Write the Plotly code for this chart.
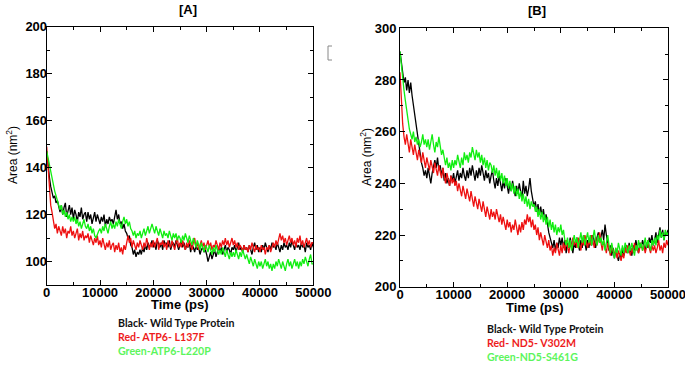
import plotly.graph_objects as go

# sampling grid (ps)
TIME = list(range(0, 50001, 250))

# Panel A: area (nm^2)
A_WILD = [147, 140, 136, 132, 130, 127, 128, 125, 126, 124,
          121, 124, 120, 123, 125, 119, 122, 124, 120, 123,
          118, 122, 120, 117, 121, 119, 123, 118, 120, 121,
          117, 121, 118, 120, 116, 119, 121, 117, 120, 118,
          116, 119, 117, 120, 115, 118, 116, 119, 117, 118,
          116, 119, 122, 118, 120, 116, 117, 114, 116, 113,
          112, 110, 111, 107, 106, 103, 105, 102, 104, 103,
          105, 103, 106, 104, 107, 105, 108, 106, 107, 109,
          106, 108, 105, 109, 107, 106, 108, 105, 109, 107,
          108, 106, 109, 105, 107, 108, 106, 109, 107, 105,
          107, 109, 106, 108, 105, 107, 106, 108, 104, 107,
          106, 104, 107, 105, 106, 103, 105, 106, 104, 105,
          103, 100, 102, 104, 101, 103, 105, 102, 104, 106,
          104, 106, 103, 105, 107, 104, 106, 105, 103, 106,
          105, 107, 104, 106, 108, 105, 106, 104, 107, 105,
          106, 104, 107, 105, 103, 106, 108, 105, 107, 104,
          106, 104, 107, 105, 108, 106, 104, 107, 105, 108,
          106, 107, 105, 108, 106, 104, 107, 105, 108, 106,
          107, 105, 108, 106, 109, 107, 105, 108, 106, 107,
          105, 108, 106, 107, 104, 108, 106, 107, 105, 108,
          106]
A_L137F = [149, 140, 131, 124, 121, 117, 114, 116, 112, 115,
           113, 111, 115, 112, 114, 110, 113, 112, 115, 111,
           113, 110, 112, 114, 109, 112, 110, 113, 109, 111,
           110, 112, 108, 111, 109, 107, 110, 108, 111, 107,
           109, 106, 110, 107, 105, 108, 106, 109, 105, 107,
           108, 104, 107, 105, 108, 104, 106, 103, 107, 105,
           109, 111, 108, 110, 106, 109, 107, 105, 108, 106,
           109, 107, 105, 108, 106, 110, 107, 105, 108, 106,
           109, 106, 108, 110, 105, 108, 107, 109, 106, 108,
           105, 109, 107, 106, 109, 107, 105, 108, 110, 106,
           108, 106, 109, 107, 105, 108, 106, 109, 107, 105,
           108, 110, 106, 108, 105, 107, 109, 106, 108, 105,
           107, 109, 106, 108, 105, 107, 106, 109, 107, 105,
           108, 106, 109, 107, 110, 107, 109, 106, 108, 110,
           107, 109, 106, 108, 105, 107, 106, 104, 107, 105,
           106, 104, 107, 105, 108, 106, 104, 107, 105, 106,
           104, 107, 105, 106, 103, 106, 105, 107, 104, 106,
           108, 106, 109, 107, 110, 112, 109, 111, 108, 110,
           107, 109, 111, 108, 110, 107, 109, 106, 110, 108,
           111, 107, 109, 106, 108, 110, 107, 109, 106, 108,
           108]
A_L220P = [147, 144, 141, 138, 135, 132, 130, 128, 126, 124,
           122, 124, 120, 122, 119, 121, 118, 120, 117, 119,
           117, 119, 116, 118, 115, 117, 114, 116, 118, 115,
           114, 116, 113, 115, 112, 114, 111, 110, 112, 113,
           114, 112, 115, 113, 116, 114, 112, 115, 117, 114,
           116, 114, 117, 115, 118, 116, 114, 117, 119, 116,
           118, 115, 117, 114, 113, 111, 113, 110, 112, 111,
           113, 110, 112, 114, 111, 113, 115, 112, 114, 116,
           114, 112, 115, 113, 111, 114, 112, 110, 113, 111,
           112, 110, 113, 111, 109, 112, 110, 112, 109, 111,
           110, 108, 111, 109, 112, 110, 108, 111, 109, 107,
           110, 108, 106, 109, 107, 105, 108, 106, 104, 107,
           106, 104, 107, 105, 103, 106, 104, 107, 105, 103,
           105, 103, 106, 104, 102, 105, 103, 101, 104, 102,
           104, 102, 105, 103, 101, 104, 102, 105, 103, 101,
           103, 101, 99, 102, 100, 98, 101, 99, 97, 100,
           98, 100, 97, 99, 101, 98, 100, 97, 99, 96,
           99, 97, 100, 98, 101, 99, 97, 100, 98, 96,
           99, 101, 98, 100, 97, 99, 101, 98, 100, 97,
           100, 98, 101, 99, 102, 100, 98, 101, 103, 99,
           99]

# Panel B: area (nm^2)
B_WILD = [291, 286, 283, 279, 281, 276, 280, 275, 279, 274,
          270, 266, 262, 258, 254, 251, 248, 246, 243, 245,
          242, 246, 243, 240, 244, 247, 249, 246, 250, 245,
          247, 243, 246, 241, 244, 240, 242, 239, 243, 241,
          244, 240, 243, 245, 241, 244, 242, 246, 243, 241,
          245, 242, 246, 243, 247, 244, 241, 245, 242, 246,
          243, 247, 244, 241, 245, 242, 244, 240, 243, 245,
          241, 238, 242, 239, 243, 240, 237, 241, 238, 242,
          239, 236, 240, 237, 241, 238, 235, 239, 236, 240,
          237, 234, 241, 236, 239, 235, 238, 242, 237, 234,
          231, 233, 229, 232, 228, 231, 227, 230, 226, 228,
          224, 221, 219, 217, 215, 218, 214, 217, 215, 219,
          216, 219, 215, 218, 213, 217, 215, 219, 216, 213,
          217, 215, 219, 216, 214, 218, 215, 220, 217, 214,
          218, 215, 219, 216, 220, 217, 215, 219, 221, 217,
          220, 222, 218, 224, 220, 217, 214, 216, 212, 215,
          211, 214, 212, 210, 213, 211, 215, 212, 214, 216,
          213, 217, 214, 212, 216, 214, 218, 215, 213, 217,
          215, 218, 216, 214, 217, 215, 219, 217, 220, 216,
          218, 221, 217, 220, 223, 219, 222, 218, 221, 220,
          222]
B_V302M = [283, 270, 263, 258, 255, 259, 256, 252, 257, 254,
           251, 255, 252, 249, 253, 250, 248, 252, 249, 246,
           250, 247, 245, 249, 246, 244, 248, 245, 243, 247,
           244, 242, 246, 243, 240, 244, 241, 239, 243, 240,
           242, 239, 241, 237, 240, 238, 235, 239, 236, 234,
           238, 235, 233, 237, 234, 231, 235, 232, 230, 234,
           231, 229, 233, 230, 227, 231, 228, 226, 230, 227,
           229, 226, 230, 227, 225, 228, 224, 227, 225, 222,
           226, 223, 225, 221, 224, 222, 226, 223, 220, 224,
           221, 225, 222, 226, 224, 228, 225, 227, 223, 226,
           222, 224, 220, 223, 218, 221, 219, 216, 220, 217,
           215, 218, 214, 216, 212, 215, 213, 217, 214, 212,
           216, 213, 217, 214, 218, 215, 213, 217, 215, 219,
           216, 218, 215, 219, 217, 214, 218, 216, 220, 217,
           215, 218, 216, 220, 217, 215, 219, 216, 218, 221,
           217, 214, 218, 216, 213, 217, 215, 212, 216, 214,
           212, 215, 211, 214, 212, 210, 213, 211, 215, 213,
           216, 214, 212, 215, 213, 217, 214, 216, 213, 215,
           217, 214, 216, 213, 215, 218, 215, 213, 216, 214,
           216, 213, 215, 218, 214, 216, 213, 217, 215, 218,
           216]
B_S461G = [291, 285, 280, 276, 272, 268, 264, 261, 259, 257,
           260, 256, 258, 255, 257, 254, 256, 259, 255, 257,
           254, 257, 253, 256, 259, 255, 252, 256, 254, 258,
           255, 251, 253, 249, 247, 250, 246, 248, 245, 249,
           246, 249, 247, 251, 248, 246, 250, 247, 252, 249,
           251, 248, 252, 250, 254, 251, 249, 253, 250, 252,
           248, 251, 247, 250, 246, 249, 245, 248, 247, 244,
           247, 243, 246, 242, 245, 241, 244, 240, 243, 239,
           242, 238, 241, 237, 240, 236, 239, 235, 238, 234,
           237, 233, 236, 232, 235, 231, 234, 230, 233, 231,
           232, 229, 231, 227, 230, 226, 229, 225, 228, 224,
           227, 223, 226, 222, 225, 221, 224, 220, 223, 221,
           224, 220, 222, 218, 216, 219, 215, 218, 214, 217,
           220, 217, 219, 215, 218, 221, 217, 220, 216, 219,
           221, 217, 220, 216, 219, 222, 218, 216, 220, 217,
           219, 216, 218, 214, 217, 220, 216, 213, 217, 214,
           211, 215, 213, 217, 214, 212, 216, 213, 217, 215,
           213, 216, 214, 217, 215, 212, 216, 214, 218, 215,
           217, 214, 216, 219, 215, 218, 216, 214, 218, 216,
           219, 216, 220, 218, 222, 219, 221, 218, 222, 220,
           221]

X_TICKS = [0, 10000, 20000, 30000, 40000, 50000]
X_TICK_LABELS = ["0", "10000", "20000", "30000", "40000", "50000"]
A_Y_TICKS = [100, 120, 140, 160, 180, 200]
B_Y_TICKS = [200, 220, 240, 260, 280, 300]

W, H = 685, 365
def px(x):
    return x / W
def py(y):
    return 1 - y / H

BLACK, RED, GREEN = "#000000", "#ee1111", "#11ee11"

fig = go.Figure()
for xa, ya, series in [
    ("x", "y", [(A_WILD, BLACK), (A_L137F, RED), (A_L220P, GREEN)]),
    ("x2", "y2", [(B_WILD, BLACK), (B_V302M, RED), (B_S461G, GREEN)]),
]:
    for vals, col in series:
        fig.add_trace(go.Scatter(x=TIME, y=vals, mode="lines", xaxis=xa, yaxis=ya,
                                 line=dict(color=col, width=1.3), showlegend=False,
                                 hoverinfo="skip"))

tickfont = dict(family="Liberation Sans", size=13, color="black", weight="bold")
minor = dict(ticks="inside", ticklen=3, tickcolor="black", showgrid=False)
axcommon = dict(showline=True, mirror="allticks", linecolor="black", linewidth=1,
                ticks="inside", ticklen=5, tickcolor="black", showgrid=False,
                zeroline=False, tickfont=tickfont, automargin=False,
                ticklabeloverflow="allow")

fig.update_layout(
    width=W, height=H, margin=dict(l=0, r=0, t=0, b=0, autoexpand=False),
    paper_bgcolor="white", plot_bgcolor="white",
    xaxis=dict(axcommon, domain=[px(46.7), px(313.3)], range=[0, 50000], anchor="y",
               tickvals=X_TICKS, ticktext=X_TICK_LABELS, ticklabelstandoff=-5,
               minor=dict(minor, dtick=5000, tick0=0)),
    yaxis=dict(axcommon, domain=[py(285), py(26.7)], range=[90, 200], anchor="x",
               tickvals=A_Y_TICKS, ticktext=[str(v) for v in A_Y_TICKS], ticklabelstandoff=-4,
               minor=dict(minor, dtick=10, tick0=0)),
    xaxis2=dict(axcommon, domain=[px(400), px(668)], range=[0, 50000], anchor="y2",
                tickvals=X_TICKS, ticktext=X_TICK_LABELS, ticklabelstandoff=-4,
                minor=dict(minor, dtick=5000, tick0=0)),
    yaxis2=dict(axcommon, domain=[py(286.7), py(28.3)], range=[200, 300], anchor="x2",
                tickvals=B_Y_TICKS, ticktext=[str(v) for v in B_Y_TICKS],
                minor=dict(minor, dtick=10, tick0=0)),
)

ann = []
def text(x, y, t, size=13, color="black", bold=True, angle=0, family="Liberation Sans", xanchor="center"):
    ann.append(dict(x=px(x), y=py(y), xref="paper", yref="paper", text=t, showarrow=False,
                    textangle=angle, xanchor=xanchor, yanchor="middle", borderpad=0,
                    font=dict(family=family, size=size, color=color,
                              weight="bold" if bold else "normal")))

text(188, 9, "[A]")
text(537, 10, "[B]")
text(180, 304, "Time (ps)")
text(535, 307, "Time (ps)")
text(12, 155, "Area (nm<sup>2</sup>)", size=12, bold=False, angle=-90)
text(366, 157, "Area (nm<sup>2</sup>)", size=12, bold=False, angle=-90)

LEG_A = ["Black- Wild Type Protein", "Red- ATP6- L137F", "Green-ATP6-L220P"]
LEG_B = ["Black- Wild Type Protein", "Red- ND5- V302M", "Green-ND5-S461G"]
LEG_COLORS = ["#111111", "#ee1c1c", "#5cf55c"]
for i, (t, c) in enumerate(zip(LEG_A, LEG_COLORS)):
    text(117, 323 + i * 14, t, size=10.6, color=c, family="Lato", xanchor="left")
for i, (t, c) in enumerate(zip(LEG_B, LEG_COLORS)):
    text(486, 329 + i * 14, t, size=10.6, color=c, family="Lato", xanchor="left")

fig.update_layout(annotations=ann)
fig.add_shape(type="path", xref="paper", yref="paper",
              path=f"M {px(332)},{py(46)} L {px(328)},{py(46)} L {px(328)},{py(60)} L {px(332)},{py(60)}",
              line=dict(color="#888888", width=1))

fig.write_html("out.html", config={"displayModeBar": False, "staticPlot": True},
               post_script="document.body.style.margin='0';document.body.style.overflow='hidden';")
